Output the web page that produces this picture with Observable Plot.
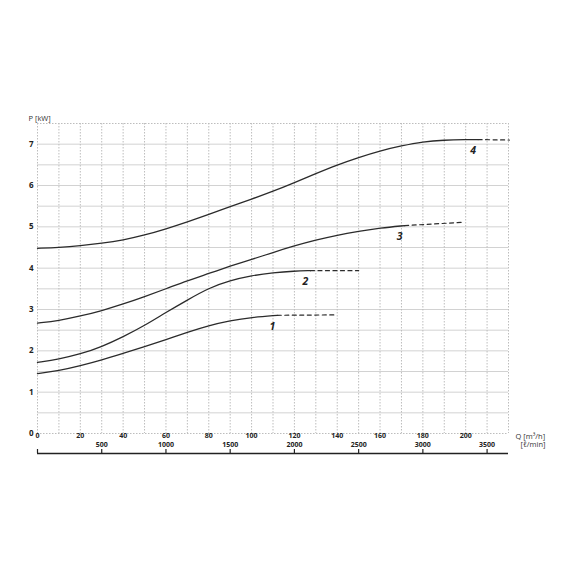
<!DOCTYPE html>
<html>
<head>
<meta charset="utf-8">
<script src="https://cdn.jsdelivr.net/npm/d3@7"></script>
<script src="https://cdn.jsdelivr.net/npm/@observablehq/plot@0.6"></script>
<style>
  html, body { margin: 0; padding: 0; background: #fff; }
</style>
</head>
<body>
<div id="chart"></div>
<script>
// Flow rate Q [m³/h] and power P [kW] for the four pump curves
const q1 = [0, 10, 20, 30, 40, 50, 60, 70, 80, 90, 100, 112];
const p1 = [1.45, 1.52, 1.64, 1.78, 1.94, 2.10, 2.27, 2.45, 2.61, 2.73, 2.81, 2.86];
const q1d = [112, 140];
const p1d = [2.86, 2.87];

const q2 = [0, 10, 20, 30, 40, 50, 60, 70, 80, 90, 100, 110, 120, 127.5];
const p2 = [1.72, 1.80, 1.92, 2.10, 2.34, 2.61, 2.93, 3.23, 3.52, 3.70, 3.82, 3.89, 3.93, 3.94];
const q2d = [127.5, 150];
const p2d = [3.94, 3.94];

const q3 = [0, 10, 20, 30, 40, 50, 60, 70, 80, 90, 100, 110, 120, 130, 140, 150, 160, 171.5];
const p3 = [2.67, 2.73, 2.84, 2.97, 3.13, 3.31, 3.50, 3.70, 3.87, 4.05, 4.21, 4.38, 4.54, 4.68, 4.80, 4.89, 4.97, 5.03];
const q3d = [171.5, 199];
const p3d = [5.03, 5.11];

const q4 = [0, 10, 20, 30, 40, 50, 60, 70, 80, 90, 100, 110, 120, 130, 140, 150, 160, 170, 180, 190, 200, 205.8];
const p4 = [4.48, 4.50, 4.54, 4.60, 4.68, 4.80, 4.95, 5.12, 5.30, 5.49, 5.67, 5.86, 6.07, 6.29, 6.50, 6.68, 6.84, 6.96, 7.06, 7.10, 7.11, 7.11];
const q4d = [205.8, 220.4];
const p4d = [7.11, 7.10];

const seriesNames = ["1", "2", "3", "4"];
const xTicks = [0, 20, 40, 60, 80, 100, 120, 140, 160, 180, 200];
const yTicks = [0, 1, 2, 3, 4, 5, 6, 7];
const lminTicks = [0, 500, 1000, 1500, 2000, 2500, 3000, 3500];

const solid = [[q1, p1], [q2, p2], [q3, p3], [q4, p4]];
const dashed = [[q1d, p1d], [q2d, p2d], [q3d, p3d], [q4d, p4d]];
const toRows = (qs, ps, name) => qs.map((q, i) => ({q, p: ps[i], s: name}));
const solidRows = solid.flatMap(([qs, ps], i) => toRows(qs, ps, seriesNames[i]));
const dashedRows = dashed.flatMap(([qs, ps], i) => toRows(qs, ps, seriesNames[i]));
const labelRows = solid.map(([qs, ps], i) => ({q: qs[qs.length - 1], p: ps[ps.length - 1], s: seriesNames[i]}));

const lminToQ = v => v * 60 / 1000;
const curveColor = "#2b2b2b";

const chart = Plot.plot({
  width: 570,
  height: 570,
  marginLeft: 37,
  marginRight: 62,
  marginTop: 123,
  marginBottom: 137,
  style: {fontFamily: "'Open Sans', 'DejaVu Sans', sans-serif", background: "#fff"},
  x: {domain: [0, 220]},
  y: {domain: [0, 7.5]},
  marks: [
    // horizontal grid
    Plot.ruleY(d3.range(0.5, 7.5, 0.5), {stroke: "#d2d2d2", strokeWidth: 1}),
    Plot.ruleY([0, 7.5], {stroke: "#bdbdbd", strokeWidth: 1, strokeDasharray: "1.5,1.5"}),
    // vertical grid
    Plot.ruleX(d3.range(0, 221, 10), {stroke: "#bdbdbd", strokeWidth: 1, strokeDasharray: "1.5,1.5"}),
    // axes
    Plot.axisY({ticks: yTicks, tickSize: 0, tickPadding: 4, label: null, fontSize: 8, fontWeight: "bold", fill: "#222"}),
    Plot.axisX({ticks: xTicks, tickSize: 0, tickPadding: 0, label: null, fontSize: 7, fontWeight: "bold", fill: "#222"}),
    // secondary l/min axis
    Plot.ruleY([0], {x1: 0, x2: 220, dy: 20, stroke: "#222", strokeWidth: 1.4}),
    Plot.ruleX(lminTicks, {x: lminToQ, insetTop: 306, dy: 20, stroke: "#222", strokeWidth: 1.2}),
    Plot.text(lminTicks.filter(v => v > 0), {x: lminToQ, frameAnchor: "bottom", dy: 13.8, text: d => String(d), fontSize: 7, fontWeight: "bold", fill: "#222"}),
    // axis titles
    Plot.text(["P [kW]"], {frameAnchor: "top-left", dx: -9, dy: -8, textAnchor: "start", fontSize: 7.5, fill: "#333"}),
    Plot.text(["Q [m³/h]"], {frameAnchor: "bottom-right", dx: 7, dy: 5, textAnchor: "start", fontSize: 7.5, fill: "#333"}),
    Plot.text(["[ℓ/min]"], {frameAnchor: "bottom-right", dx: 12, dy: 13.5, textAnchor: "start", fontSize: 7.5, fill: "#333"}),
    // curves
    Plot.line(solidRows, {x: "q", y: "p", z: "s", curve: "basis", stroke: curveColor, strokeWidth: 1.3}),
    Plot.line(dashedRows, {x: "q", y: "p", z: "s", stroke: curveColor, strokeWidth: 1.2, strokeDasharray: "4,3.5"}),
    Plot.text(labelRows, {x: "q", y: "p", text: "s", dx: -5, dy: 11, fontSize: 10.5, fontWeight: "bold", fontStyle: "italic", fill: "#222"})
  ]
});
document.getElementById("chart").appendChild(chart);
</script>
</body>
</html>
